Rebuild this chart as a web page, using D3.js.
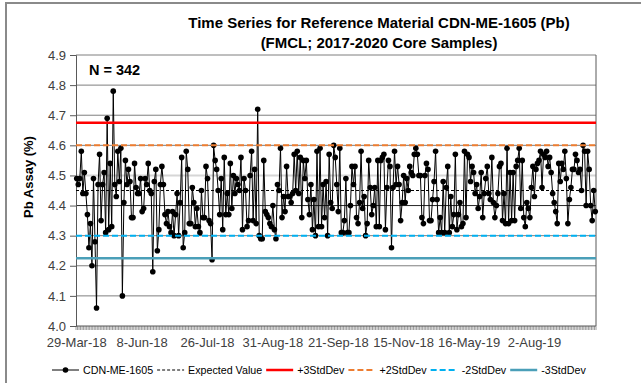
<!DOCTYPE html>
<html>
<head>
<meta charset="utf-8">
<script src="https://cdn.jsdelivr.net/npm/d3@7"></script>
<style>
  body { margin: 0; background: #fff; }
  svg { display: block; font-family: "Liberation Sans", Arial, sans-serif; }
</style>
</head>
<body>
<svg id="chart" width="641" height="383"></svg>
<script>
"use strict";

/* Pb assay results for CDN-ME-1605, in sample order */
const pbValues = [
  4.49, 4.47, 4.49, 4.58, 4.44, 4.51, 4.44, 4.37, 4.26, 4.34,
  4.20, 4.49, 4.28, 4.06, 4.47, 4.57, 4.35, 4.47, 4.51, 4.31,
  4.69, 4.32, 4.54, 4.33, 4.78, 4.47, 4.43, 4.58, 4.48, 4.59,
  4.10, 4.41, 4.55, 4.47, 4.52, 4.48, 4.36, 4.36, 4.54, 4.46,
  4.44, 4.44, 4.49, 4.38, 4.39, 4.49, 4.47, 4.54, 4.45, 4.44,
  4.18, 4.48, 4.52, 4.25, 4.32, 4.47, 4.53, 4.47, 4.37, 4.34,
  4.38, 4.33, 4.31, 4.38, 4.30, 4.37, 4.44, 4.30, 4.41, 4.56,
  4.26, 4.31, 4.58, 4.52, 4.34,
  4.34, 4.46, 4.41, 4.33, 4.39, 4.33, 4.31, 4.45, 4.36, 4.36,
  4.53, 4.49, 4.35, 4.34, 4.22, 4.60, 4.55, 4.52, 4.45, 4.37,
  4.49, 4.32, 4.56, 4.37, 4.44, 4.37, 4.54, 4.39, 4.50, 4.44,
  4.49, 4.47, 4.45, 4.56, 4.32, 4.49, 4.45, 4.33, 4.35, 4.50,
  4.58, 4.35, 4.52, 4.34, 4.72, 4.30, 4.29, 4.29, 4.55, 4.38,
  4.37, 4.36, 4.34, 4.33, 4.40, 4.32, 4.29, 4.47, 4.45, 4.59,
  4.36, 4.43, 4.38, 4.53, 4.43, 4.43, 4.41, 4.44, 4.57, 4.45,
  4.58, 4.44, 4.56, 4.36, 4.55, 4.49, 4.55, 4.42, 4.37, 4.47,
  4.32, 4.42, 4.30, 4.58, 4.33,
  4.59, 4.33, 4.47, 4.36, 4.48, 4.30, 4.57, 4.41, 4.39, 4.60,
  4.56, 4.47, 4.38, 4.59, 4.31, 4.31, 4.35, 4.49, 4.31, 4.31,
  4.40, 4.53, 4.47, 4.53, 4.36, 4.34, 4.41, 4.58, 4.39, 4.43,
  4.30, 4.34, 4.55, 4.46, 4.37, 4.40, 4.46, 4.33, 4.55, 4.33,
  4.55, 4.56, 4.57, 4.32, 4.46, 4.55, 4.53, 4.26, 4.46, 4.58,
  4.47, 4.53, 4.47, 4.35, 4.41, 4.50, 4.41, 4.49, 4.45, 4.53,
  4.51, 4.50, 4.57, 4.59, 4.57, 4.50, 4.50, 4.36, 4.34, 4.50,
  4.54, 4.52, 4.35, 4.35, 4.42, 4.48, 4.58, 4.42, 4.31, 4.36,
  4.31, 4.48, 4.31, 4.46, 4.53, 4.31, 4.43, 4.33, 4.37, 4.57,
  4.32, 4.37,
  4.41, 4.33, 4.34, 4.58, 4.36, 4.57, 4.56, 4.48, 4.53, 4.51,
  4.44, 4.47, 4.39, 4.43, 4.51, 4.36, 4.44, 4.49, 4.53, 4.44,
  4.42, 4.56, 4.41, 4.36, 4.40, 4.44, 4.53, 4.54, 4.35, 4.44,
  4.34, 4.59, 4.34, 4.51, 4.35, 4.51, 4.35, 4.53, 4.55, 4.59,
  4.39, 4.55, 4.36, 4.33, 4.41, 4.39, 4.36, 4.46, 4.53, 4.43,
  4.52, 4.54, 4.55, 4.58, 4.46, 4.57, 4.56, 4.58, 4.53, 4.56,
  4.51, 4.44, 4.41, 4.38, 4.34, 4.54, 4.48, 4.54, 4.52, 4.58,
  4.49, 4.34, 4.42, 4.46, 4.52, 4.52, 4.57, 4.55, 4.51, 4.52,
  4.45, 4.60, 4.58, 4.40, 4.58, 4.52, 4.40, 4.35, 4.45, 4.38
];

/* category labels: Excel shows every 43rd sample date */
const tickLabels = ["29-Mar-18", "8-Jun-18", "26-Jul-18", "31-Aug-18",
  "21-Sep-18", "15-Nov-18", "16-May-19", "2-Aug-19"];
const tickEvery = 43;

/* control lines: expected value and +/- standard deviation limits */
const refNames = ["Expected Value", "+3StdDev", "+2StdDev", "-2StdDev", "-3StdDev"];
const refValues = [4.45, 4.675, 4.60, 4.30, 4.225];

const seriesName = "CDN-ME-1605";

const refStyle = {
  "Expected Value": { color: "#000000", width: 1, dash: "3,2" },
  "+3StdDev": { color: "#ff0000", width: 2.5, dash: null },
  "+2StdDev": { color: "#ed7d31", width: 2, dash: "6,3" },
  "-2StdDev": { color: "#00b0f0", width: 2, dash: "6,3" },
  "-3StdDev": { color: "#4a9fb8", width: 2.5, dash: null }
};

const svg = d3.select("#chart");

// outer chart frame (only top/left edges show in the picture)
svg.append("rect")
  .attr("x", 6).attr("y", 3)
  .attr("width", 700).attr("height", 420)
  .attr("fill", "none")
  .attr("stroke", "#8a8a8a")
  .attr("stroke-width", 2);

const plot = { left: 76, right: 596, top: 55, bottom: 326 };

const x = d3.scaleLinear()
  .domain([0, pbValues.length])
  .range([plot.left, plot.right]);

const y = d3.scaleLinear()
  .domain([4.0, 4.9])
  .range([plot.bottom, plot.top]);

/* Title */
const title = svg.append("g")
  .attr("font-weight", "bold")
  .attr("font-size", 15)
  .attr("text-anchor", "middle")
  .attr("fill", "#000");
title.append("text").attr("x", 379).attr("y", 28)
  .text("Time Series for Reference Material CDN-ME-1605 (Pb)");
title.append("text").attr("x", 379).attr("y", 48)
  .text("(FMCL; 2017-2020 Core Samples)");

/* Gridlines - 4.5 shows pale and 4.4 dark in the original */
const grid = svg.append("g");
grid.selectAll("line")
  .data(y.ticks(9).filter(t => t > 4.0))
  .enter()
  .append("line")
  .attr("x1", plot.left)
  .attr("x2", plot.right)
  .attr("y1", d => y(d))
  .attr("y2", d => y(d))
  .attr("stroke", function (d) {
    if (Math.abs(d - 4.5) < 1e-6) return "#d6d6d6";
    if (Math.abs(d - 4.4) < 1e-6) return "#262626";
    return "#7f7f7f";
  })
  .attr("stroke-width", d => (Math.abs(d - 4.5) < 1e-6 ? 2 : 1));

// right border of plot area
svg.append("line")
  .attr("x1", plot.right).attr("x2", plot.right)
  .attr("y1", plot.top).attr("y2", plot.bottom)
  .attr("stroke", "#595959");

/* Y axis */
const yAxis = svg.append("g")
  .attr("transform", `translate(${plot.left},0)`)
  .call(d3.axisLeft(y).ticks(9).tickFormat(d3.format(".1f")).tickSize(6).tickPadding(4));
yAxis.select(".domain").attr("stroke", "#595959");
yAxis.selectAll(".tick line").attr("stroke", "#595959");
yAxis.selectAll("text")
  .attr("font-family", "'Liberation Sans', Arial, sans-serif")
  .attr("font-size", 13)
  .attr("fill", "#404040");

svg.append("text")
  .attr("transform", "translate(33,177) rotate(-90)")
  .attr("text-anchor", "middle")
  .attr("font-weight", "bold")
  .attr("font-size", 13)
  .text("Pb Assay (%)");

/* X axis: one minor tick per sample, labels every 43rd sample */
const xAxis = svg.append("g");
xAxis.append("line")
  .attr("x1", plot.left).attr("x2", plot.right)
  .attr("y1", plot.bottom).attr("y2", plot.bottom)
  .attr("stroke", "#595959");
xAxis.selectAll(".minor")
  .data(d3.range(pbValues.length + 1))
  .enter()
  .append("line")
  .attr("class", "minor")
  .attr("x1", d => x(d)).attr("x2", d => x(d))
  .attr("y1", plot.bottom).attr("y2", plot.bottom + 4)
  .attr("stroke", "#595959")
  .attr("stroke-width", 0.6);
xAxis.selectAll(".xlab")
  .data(tickLabels)
  .enter()
  .append("text")
  .attr("class", "xlab")
  .attr("x", (d, i) => x(i * tickEvery + 0.5))
  .attr("y", 347)
  .attr("text-anchor", "middle")
  .attr("font-size", 13)
  .attr("fill", "#404040")
  .text(d => d);

/* Data series: black line with round markers */
const series = svg.append("g");
series.append("path")
  .datum(pbValues)
  .attr("fill", "none")
  .attr("stroke", "#000")
  .attr("stroke-width", 1)
  .attr("d", d3.line()
    .x((d, i) => x(i + 0.5))
    .y(d => y(d)));
series.selectAll("circle")
  .data(pbValues)
  .enter()
  .append("circle")
  .attr("cx", (d, i) => x(i + 0.5))
  .attr("cy", d => y(d))
  .attr("r", 2.8)
  .attr("fill", "#000");

/* Control lines drawn on top like later Excel series */
svg.append("g").selectAll("line")
  .data(refNames)
  .enter()
  .append("line")
  .attr("x1", plot.left).attr("x2", plot.right)
  .attr("y1", (d, i) => y(refValues[i]))
  .attr("y2", (d, i) => y(refValues[i]))
  .attr("stroke", d => refStyle[d].color)
  .attr("stroke-width", d => refStyle[d].width)
  .attr("stroke-dasharray", d => refStyle[d].dash);

/* N label */
svg.append("text")
  .attr("x", 89).attr("y", 75)
  .attr("font-weight", "bold")
  .attr("font-size", 14.5)
  .text(`N = ${pbValues.length}`);

/* Legend along the bottom */
const legend = svg.append("g").attr("font-size", 10.7).attr("fill", "#000");
const legendY = 370;
let lx = 52;
[seriesName].concat(refNames).forEach(function (name) {
  const item = legend.append("g");
  const st = refStyle[name] || { color: "#000", width: 1, dash: null };
  item.append("line")
    .attr("x1", lx).attr("x2", lx + 27)
    .attr("y1", legendY).attr("y2", legendY)
    .attr("stroke", st.color)
    .attr("stroke-width", st.width)
    .attr("stroke-dasharray", st.dash);
  if (name === seriesName) {
    item.append("circle")
      .attr("cx", lx + 13.5).attr("cy", legendY)
      .attr("r", 2.8).attr("fill", "#000");
  }
  const txt = item.append("text")
    .attr("x", lx + 31)
    .attr("y", legendY + 4)
    .text(name);
  lx += 31 + txt.node().getComputedTextLength() + 4;
});
</script>
</body>
</html>
